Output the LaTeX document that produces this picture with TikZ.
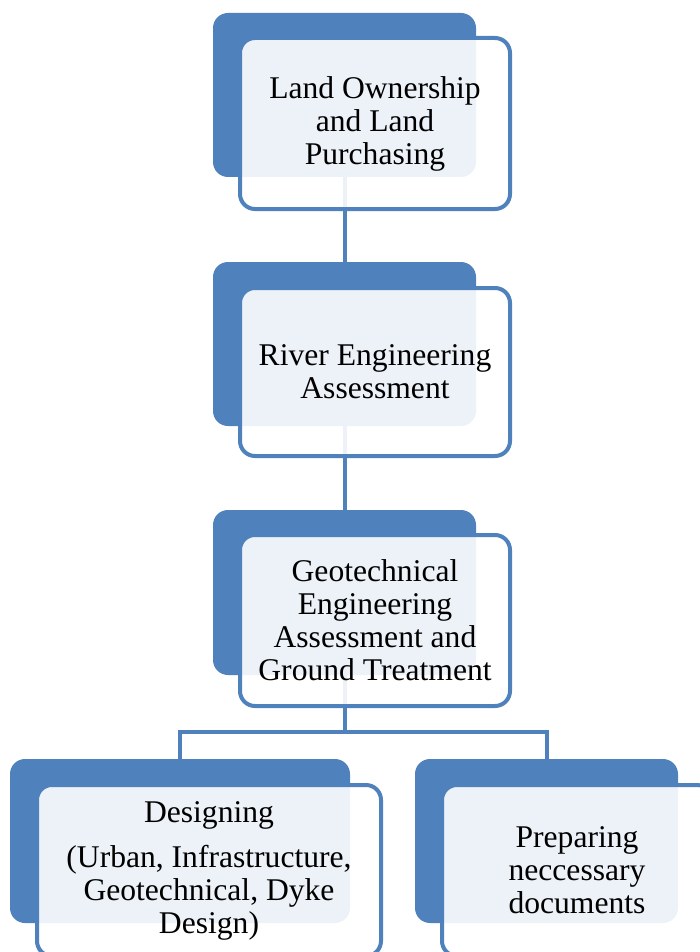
\documentclass[tikz,border=0pt]{standalone}
\usepackage{fontspec}
\setmainfont{Liberation Serif}
\definecolor{accent}{HTML}{4F81BD}
\begin{document}
\begin{tikzpicture}[x=1pt,y=-1pt,
  backbox/.style={fill=accent,draw=none,rounded corners=15pt,inner sep=0pt},
  frontbox/.style={draw=accent,line width=4pt,fill=white,fill opacity=0.9,text opacity=1,
    rounded corners=15pt,inner sep=0pt,align=center,
    font=\fontsize{31.6}{33}\selectfont},
  link/.style={draw=accent,line width=4pt}]
\useasboundingbox (0,0) rectangle (700,952);
\clip (0,0) rectangle (700,952);

% back panels
\node[backbox,minimum width=263pt,minimum height=164pt] (b1) at (344.5,95) {};
\node[backbox,minimum width=263pt,minimum height=164pt] (b2) at (344.5,344) {};
\node[backbox,minimum width=263pt,minimum height=165pt] (b3) at (344.5,592.5) {};
\node[backbox,minimum width=340pt,minimum height=164pt] (b4) at (180,841) {};
\node[backbox,minimum width=263pt,minimum height=164pt] (b5) at (546.5,841) {};

% connectors
\coordinate (j) at (344.5,732);
\draw[link] (b1.south) -- (b2.north);
\draw[link] (b2.south) -- (b3.north);
\draw[link] (b3.south) -- (j);
\draw[link] (j) -| (b4.north);
\draw[link] (j) -| (b5.north);

% front panels with the labels
\node[frontbox,minimum width=270pt,minimum height=171pt] (f1) at (375,123.5)
  {Land Ownership\\and Land\\Purchasing};
\node[frontbox,minimum width=270pt,minimum height=168pt] (f2) at (375,372)
  {River Engineering\\Assessment};
\node[frontbox,minimum width=270pt,minimum height=171pt] (f3) at (375,620.5)
  {Geotechnical\\Engineering\\Assessment and\\Ground Treatment};
\node[frontbox,minimum width=344pt,minimum height=171pt] (f4) at (209,870.5)
  {Designing\\[12pt](Urban, Infrastructure,\\Geotechnical, Dyke\\Design)};
\node[frontbox,minimum width=270pt,minimum height=171pt] (f5) at (577,870.5)
  {Preparing\\neccessary\\documents};
\end{tikzpicture}
\end{document}
